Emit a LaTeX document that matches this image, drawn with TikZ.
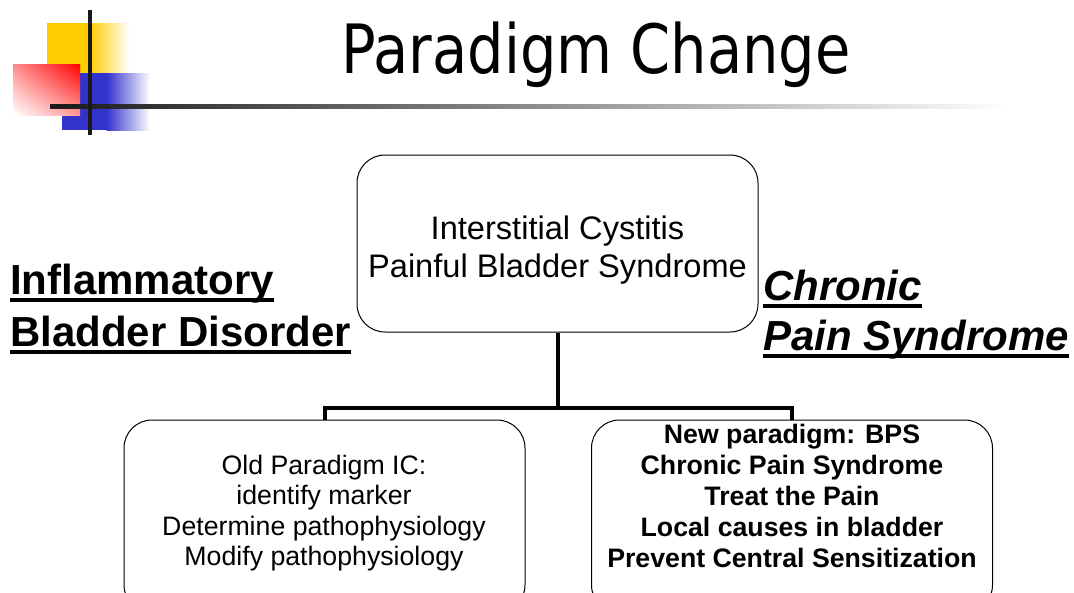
\documentclass[tikz,border=0pt]{standalone}
\usepackage{fontspec}
\setmainfont{Liberation Sans}
\newfontfamily\titlefont{DejaVu Sans}
\usetikzlibrary{shadings}
\definecolor{logoyellow}{HTML}{FFCC00}
\definecolor{logoblue}{HTML}{3333CC}
\definecolor{logored}{HTML}{FF0000}
\newcommand\ulbox[1]{\setbox0\hbox{#1}\rlap{\rule[-8pt]{\wd0}{4pt}}\box0}
\tikzset{
  roundbox/.style={draw=black, line width=1pt, rounded corners=28pt, inner sep=0pt, align=center},
  conn/.style={line width=4pt, black},
  lbl/.style={inner sep=0pt, font=\bfseries\fontsize{42}{50}\selectfont},
  rlbl/.style={inner sep=0pt, font=\bfseries\itshape\fontsize{42}{50}\selectfont},
  toptxt/.style={inner sep=0pt, align=center, font=\fontsize{32.6}{38}\selectfont},
  oldtxt/.style={inner sep=0pt, align=center, font=\fontsize{26.7}{30.5}\selectfont},
  newtxt/.style={inner sep=0pt, align=center, font=\bfseries\fontsize{26.7}{31}\selectfont},
}
\begin{document}
\begin{tikzpicture}[x=1pt,y=-1pt]
\useasboundingbox (0,0) rectangle (1074,592);
\clip (0,0) rectangle (1074,592);
% logo
\fill[logoyellow] (47,23) rectangle (90,73);
\shade[left color=logoyellow,right color=white] (89.5,23) rectangle (130,73);
\fill[logoblue] (62,73) rectangle (107,130);
\shade[left color=logoblue,right color=white] (106.5,73) rectangle (150,130);
\shade[upper right=logored, upper left=logored!45, lower right=logored!40, lower left=white] (13,64) rectangle (80,115);
\shade[left color=black!90,right color=white] (50,104) rectangle (1012,108);
\fill[black!90] (88,10) rectangle (92,135);
% title
\node[inner sep=0pt, anchor=base, font=\titlefont\fontsize{68}{80}\selectfont] (title) at (596,73) {\scalebox{0.845}[1]{Paradigm Change}};
% boxes
\node[roundbox, minimum width=401pt, minimum height=177pt] (top) at (557.5,243.5) {};
\node[toptxt] (topt) at (557.5,250) {Interstitial Cystitis\\Painful Bladder Syndrome};
\node[roundbox, minimum width=401pt, minimum height=193pt] (old) at (324.5,516.5) {};
\node[roundbox, minimum width=401pt, minimum height=193pt] (new) at (792,516.5) {};
\node[oldtxt] (oldt) at (324,513) {Old Paradigm IC:\\identify marker\\Determine pathophysiology\\Modify pathophysiology};
\node[newtxt] (newt) at (792,496) {New paradigm: BPS\\Chronic Pain Syndrome\\Treat the Pain\\Local causes in bladder\\Prevent Central Sensitization};
% connectors
\coordinate (j) at (557.5,408);
\draw[conn] (top.south) -- (j);
\draw[conn, line join=miter] (old.north) |- (j) -| (new.north);
% side labels
\node[lbl, anchor=base west] (infl1) at (10,294) {\ulbox{Inflammatory}};
\node[lbl, anchor=base west] (infl2) at (10,346) {\ulbox{Bladder Disorder}};
\node[rlbl, anchor=base west] (chr1) at (763,300) {\ulbox{Chronic}};
\node[rlbl, anchor=base west] (chr2) at (763,350) {\ulbox{Pain Syndrome}};
\end{tikzpicture}
\end{document}
